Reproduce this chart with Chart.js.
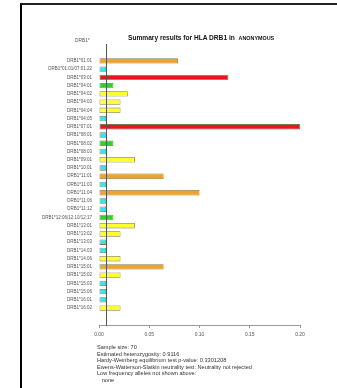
<!DOCTYPE html>
<html>
<head>
<meta charset="utf-8">
<script src="https://cdn.jsdelivr.net/npm/chart.js@4"></script>
<style>
  html, body { margin: 0; padding: 0; background: #fff; overflow: hidden; }
  #wrap { position: relative; width: 337px; height: 388px; font-family: "Liberation Sans", Arial, sans-serif; }
  #frame { position: absolute; left: 20px; top: 3px; width: 400px; height: 420px; border-left: 2px solid #000; border-top: 2px solid #222; }
  #chart { position: absolute; left: 0; top: 0; }
  .txt { position: absolute; white-space: nowrap; }
  #title { left: 128px; top: 34px; font-size: 6.6px; font-weight: bold; color: #111; }
  #title span { font-size: 5.4px; margin-left: 2px; }
  #axisName { left: 75px; top: 38px; font-size: 4.8px; color: #555; }
  #notes { left: 97px; top: 344px; font-size: 5.6px; line-height: 6.5px; color: #333; }
</style>
</head>
<body>
<div id="wrap">
  <div id="frame"></div>
  <canvas id="chart" width="337" height="388"></canvas>
  <div class="txt" id="title"></div>
  <div class="txt" id="axisName"></div>
  <div class="txt" id="notes"></div>
</div>
<script>
"use strict";

var titleMain = "Summary results for HLA DRB1 in";
var titlePop = "ANONYMOUS";
var axisName = "DRB1*";

var categories = [
  "DRB1*01:01", "DRB1*01:01/07:01:22", "DRB1*03:01", "DRB1*04:01", "DRB1*04:02",
  "DRB1*04:03", "DRB1*04:04", "DRB1*04:05", "DRB1*07:01", "DRB1*08:01",
  "DRB1*08:02", "DRB1*08:03", "DRB1*09:01", "DRB1*10:01", "DRB1*11:01",
  "DRB1*11:03", "DRB1*11:04", "DRB1*11:06", "DRB1*11:12", "DRB1*12:06/12:10/12:17",
  "DRB1*13:01", "DRB1*13:02", "DRB1*13:03", "DRB1*14:03", "DRB1*14:06",
  "DRB1*15:01", "DRB1*15:02", "DRB1*15:03", "DRB1*15:06", "DRB1*16:01",
  "DRB1*16:02"
];

var frequencies = [
  0.0786, 0.0071, 0.1286, 0.0143, 0.0286,
  0.0214, 0.0214, 0.0071, 0.2000, 0.0071,
  0.0143, 0.0071, 0.0357, 0.0071, 0.0643,
  0.0071, 0.1000, 0.0071, 0.0071, 0.0143,
  0.0357, 0.0214, 0.0071, 0.0071, 0.0214,
  0.0643, 0.0214, 0.0071, 0.0071, 0.0071,
  0.0214
];

// vertical reference line (single-copy frequency)
var refLine = 0.0071;

var xTicks = [0, 0.05, 0.10, 0.15, 0.20];

var notes = [
  "Sample size: 70",
  "Estimated heterozygosity: 0.9116",
  "Hardy-Weinberg equilibrium test p-value: 0.3301208",
  "Ewens-Watterson-Slatkin neutrality test: Neutrality not rejected",
  "Low frequency alleles not shown above:",
  "\u00a0\u00a0\u00a0none"
];

document.getElementById("title").innerHTML = titleMain + " <span>" + titlePop + "</span>";
document.getElementById("axisName").textContent = axisName;
document.getElementById("notes").innerHTML = notes.join("<br>");

var barColor = function(v) {
  if (v < 0.01) return "#35e4ef";
  if (v < 0.02) return "#22d822";
  if (v < 0.05) return "#ffff30";
  if (v < 0.12) return "#f0a22c";
  return "#e5161c";
};

var refLinePlugin = {
  id: "refLine",
  afterDatasetsDraw: function(chart) {
    var area = chart.chartArea;
    var x = Math.round(chart.scales.x.getPixelForValue(refLine)) + 0.5;
    var c = chart.ctx;
    c.save();
    c.strokeStyle = "#555";
    c.lineWidth = 1;
    c.beginPath();
    c.moveTo(x, area.top);
    c.lineTo(x, area.bottom + 1);
    c.stroke();
    c.restore();
  }
};

Chart.defaults.font.family = "'Liberation Sans', Arial, sans-serif";

new Chart(document.getElementById("chart"), {
  type: "bar",
  data: {
    datasets: [
      {
        data: frequencies.map(function(v, i) { return { x: v, y: i }; }),
        backgroundColor: frequencies.map(barColor),
        borderColor: "#7a7a50",
        borderWidth: 0.8,
        borderSkipped: false,
        barPercentage: 0.66,
        categoryPercentage: 1
      }
    ]
  },
  options: {
    indexAxis: "y",
    responsive: false,
    animation: false,
    devicePixelRatio: 1,
    layout: { padding: { left: 0, right: 37, top: 44, bottom: 50 } },
    plugins: { legend: { display: false }, tooltip: { enabled: false } },
    scales: {
      x: {
        type: "linear",
        min: 0,
        max: 0.2,
        afterBuildTicks: function(s) {
          s.ticks = xTicks.map(function(v) { return { value: v }; });
        },
        afterFit: function(s) { s.height = 13; },
        grid: { drawOnChartArea: false, drawTicks: true, tickLength: 3, color: "#999" },
        border: { color: "#999" },
        ticks: {
          color: "#555",
          font: { size: 5 },
          padding: 4,
          maxRotation: 0,
          callback: function(v) { return Number(v).toFixed(2); }
        }
      },
      y: {
        type: "linear",
        reverse: true,
        min: -1.5,
        max: 31.5,
        afterBuildTicks: function(s) {
          s.ticks = categories.map(function(c, i) { return { value: i }; });
        },
        afterFit: function(s) { s.width = 99; },
        grid: { display: false, drawTicks: false },
        border: { display: false },
        ticks: {
          color: "#555",
          font: { size: 4.5 },
          padding: 7,
          autoSkip: false,
          callback: function(v) { return categories[v]; }
        }
      }
    }
  },
  plugins: [refLinePlugin]
});
</script>
</body>
</html>
